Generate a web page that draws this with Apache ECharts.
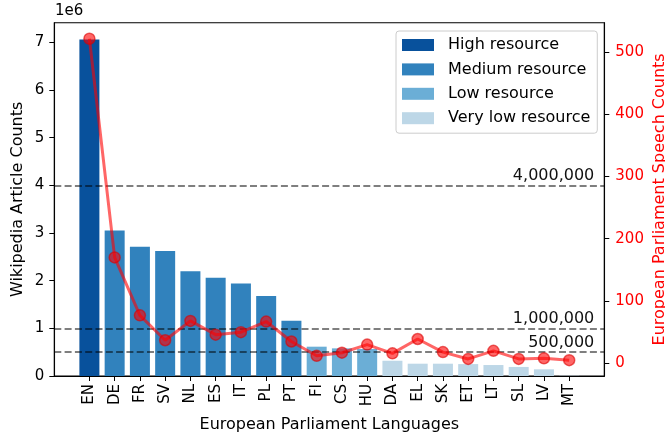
<!DOCTYPE html>
<html>
<head>
<meta charset="utf-8">
<script src="https://cdn.jsdelivr.net/npm/echarts@6/dist/echarts.min.js"></script>
<style>
  html, body { margin: 0; padding: 0; background: #fff; }
  #chart { width: 665px; height: 434px; }
</style>
</head>
<body>
<div id="chart"></div>
<script>
// languages on the x axis
const langs = ['EN', 'DE', 'FR', 'SV', 'NL', 'ES', 'IT', 'PL', 'PT', 'FI',
               'CS', 'HU', 'DA', 'EL', 'SK', 'ET', 'LT', 'SL', 'LV', 'MT'];
// wikipedia article counts (bars, left axis)
const wikiCounts = [7060000, 3050000, 2710000, 2620000, 2200000, 2060000, 1940000, 1680000, 1160000, 615000,
                    580000, 566000, 320000, 258000, 258000, 250000, 230000, 190000, 140000, 5000];
// european parliament speech counts (line, right axis)
const speechCounts = [521, 170, 77, 37, 68, 46, 50, 67, 35, 12,
                      17, 30, 16, 39, 18, 7, 20, 7, 8, 5];
// resource level of each language
const levels = ['High resource', 'Medium resource', 'Low resource', 'Very low resource'];
const levelColors = ['#08519c', '#3182bd', '#6baed6', '#bdd7e7'];
const levelOf = [0, 1, 1, 1, 1, 1, 1, 1, 1, 2, 2, 2, 3, 3, 3, 3, 3, 3, 3, 3];
// reference lines
const thresholds = [4000000, 1000000, 500000];
const leftTicks = [0, 1000000, 2000000, 3000000, 4000000, 5000000, 6000000, 7000000];
const rightTicks = [0, 100, 200, 300, 400, 500];

const font = 'DejaVu Sans';
const chart = echarts.init(document.getElementById('chart'));

const barSeries = levels.map((name, l) => {
    const s = {
        name: name,
        type: 'bar',
        barWidth: 20,
        barGap: '-100%',
        itemStyle: { color: levelColors[l] },
        data: langs.map((_, i) => [i, wikiCounts[i]]).filter((_, i) => levelOf[i] === l),
        z: 2
    };
    if (l === 0) {
        s.markLine = {
            silent: true,
            symbol: 'none',
            lineStyle: { color: 'rgba(0,0,0,0.5)', width: 2, type: [7, 3.3] },
            label: {
                position: 'insideEndTop',
                distance: [10, 1],
                fontFamily: font,
                fontSize: 16,
                color: '#111',
                formatter: p => p.value.toLocaleString('en-US')
            },
            data: thresholds.map(v => ({ yAxis: v }))
        };
    }
    return s;
});

chart.setOption({
    animation: false,
    textStyle: { fontFamily: font },
    grid: {
        left: 54.3, right: 60.7, top: 22.7, bottom: 58,
        outerBoundsMode: 'none',
        containLabel: false,
        show: true, borderColor: '#000', borderWidth: 1.1
    },
    graphic: [{
        type: 'text', left: 55, top: 4,
        style: { text: '1e6', fontFamily: font, fontSize: 15, fill: '#000' }
    }],
    legend: {
        orient: 'vertical',
        left: 396, top: 31,
        padding: [6, 7, 7, 6],
        itemWidth: 32, itemHeight: 12, itemGap: 8.4,
        icon: 'rect',
        backgroundColor: '#fff',
        borderColor: '#cccccc', borderWidth: 1, borderRadius: 3,
        textStyle: { fontFamily: font, fontSize: 16, lineHeight: 16, color: '#000', padding: [0, 0, 0, 9] },
        data: levels
    },
    xAxis: {
        type: 'value',
        min: -1.39, max: 20.39,
        name: 'European Parliament Languages',
        nameLocation: 'middle', nameGap: 41, nameMoveOverlap: false,
        nameTextStyle: { fontFamily: font, fontSize: 16, color: '#000' },
        axisLine: { onZero: false, lineStyle: { color: '#000', width: 1.1 } },
        axisTick: { customValues: langs.map((_, i) => i), length: 5, lineStyle: { color: '#000' } },
        axisLabel: {
            customValues: langs.map((_, i) => i),
            rotate: 90, margin: 8,
            fontFamily: font, fontSize: 15, color: '#000',
            formatter: v => langs[Math.round(v)]
        },
        splitLine: { show: false }
    },
    yAxis: [{
        type: 'value',
        min: 0, max: 7411500,
        name: 'Wikipedia Article Counts',
        nameLocation: 'middle', nameGap: 28, nameRotate: 90, nameMoveOverlap: false,
        nameTextStyle: { fontFamily: font, fontSize: 16, color: '#000' },
        axisLine: { show: true, onZero: false, lineStyle: { color: '#000', width: 1.1 } },
        axisTick: { show: true, customValues: leftTicks, length: 5, lineStyle: { color: '#000' } },
        axisLabel: {
            customValues: leftTicks, margin: 10,
            fontFamily: font, fontSize: 15, color: '#000',
            formatter: v => String(v / 1000000)
        },
        splitLine: { show: false }
    }, {
        type: 'value',
        position: 'right',
        min: -20.4, max: 546.7,
        name: 'European Parliament Speech Counts',
        nameLocation: 'middle', nameGap: 48, nameRotate: 90, nameMoveOverlap: false,
        nameTextStyle: { fontFamily: font, fontSize: 16, color: '#ff0000' },
        axisLine: { show: true, onZero: false, lineStyle: { color: '#000', width: 1.1 } },
        axisTick: { show: true, customValues: rightTicks, length: 5, lineStyle: { color: '#000' } },
        axisLabel: {
            customValues: rightTicks, margin: 11,
            fontFamily: font, fontSize: 15, color: '#ff0000'
        },
        splitLine: { show: false }
    }],
    series: barSeries.concat([{
        name: 'Speech Counts',
        type: 'line',
        yAxisIndex: 1,
        symbol: 'circle',
        symbolSize: 11,
        lineStyle: { color: 'rgba(255,0,0,0.6)', width: 3 },
        itemStyle: { color: 'rgba(255,0,0,0.6)', borderColor: 'rgba(220,0,0,0.6)', borderWidth: 1.5 },
        data: langs.map((_, i) => [i, speechCounts[i]]),
        z: 5
    }])
});
</script>
</body>
</html>
